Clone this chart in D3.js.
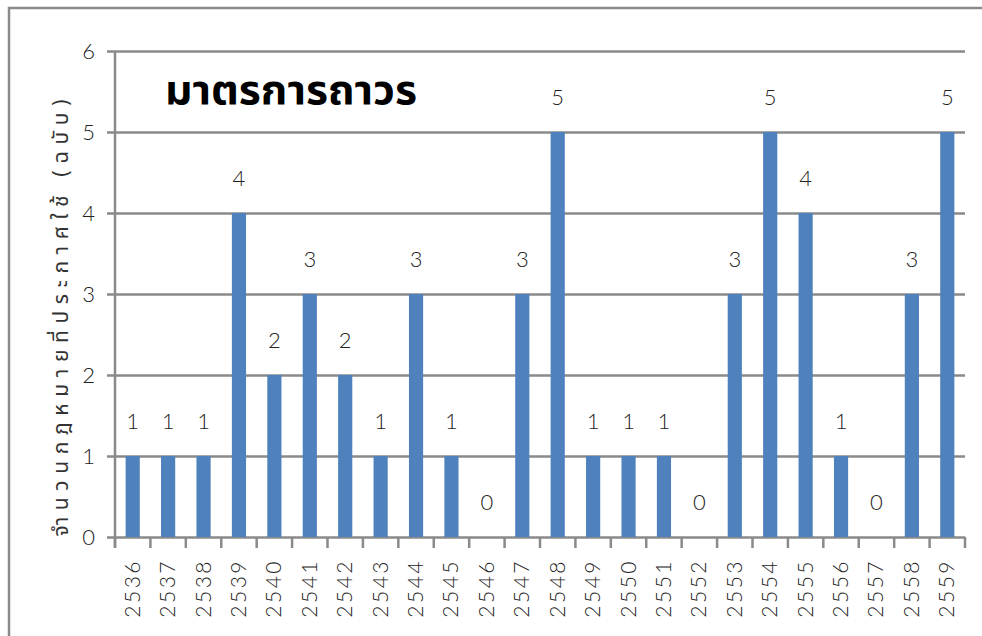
<!DOCTYPE html>
<html>
<head>
<meta charset="utf-8">
<script src="https://cdn.jsdelivr.net/npm/d3@7"></script>
<style>
  body { margin: 0; background: #fff; }
  .tick text { font-family: Lato, "Liberation Sans", sans-serif; font-weight: 300; fill: #222; }
</style>
</head>
<body>
<div id="vis"></div>
<script>
// years (พ.ศ.) and number of laws announced each year
var years = ["2536", "2537", "2538", "2539", "2540", "2541", "2542", "2543", "2544", "2545", "2546", "2547",
    "2548", "2549", "2550", "2551", "2552", "2553", "2554", "2555", "2556", "2557", "2558", "2559"];
var counts = [1, 1, 1, 4, 2, 3, 2, 1, 3, 1, 0, 3, 5, 1, 1, 1, 0, 3, 5, 4, 1, 0, 3, 5];
var yTicks = [0, 1, 2, 3, 4, 5, 6];
var title = "มาตรการถาวร";
var yTitle = "จำนวนกฎหมายที่ประกาศใช้ (ฉบับ)";

var W = 982, H = 636;
var margin = { top: 51, right: 17, bottom: 99, left: 115 },
    width = W - margin.left - margin.right,
    height = H - margin.top - margin.bottom;

var root = d3.select("#vis")
    .append("svg")
    .attr("width", W)
    .attr("height", H);

// chart frame (only top and left edges show in the picture)
root.append("path")
    .attr("d", "M9," + H + " L9,8 L" + W + ",8")
    .attr("fill", "none")
    .attr("stroke", "#8a8a8a")
    .attr("stroke-width", 2.5);

var svg = root.append("g")
    .attr("transform", "translate(" + margin.left + "," + margin.top + ")");

var x = d3.scaleBand().domain(years).range([0, width]).paddingInner(0.6).paddingOuter(0.3);
var xTick = d3.scaleBand().domain(years).range([0, width]);
var y = d3.scaleLinear().domain([0, 6]).range([height, 0]);

// gridlines + y axis
var yAxis = svg.append("g")
    .call(d3.axisLeft(y).tickValues(yTicks).tickFormat(d3.format("d"))
        .tickSize(-width).tickSizeOuter(0).tickPadding(20));
yAxis.select(".domain").remove();
yAxis.selectAll(".tick line")
    .attr("x1", -8)
    .attr("stroke", "#8a8a8a")
    .attr("stroke-width", 2.5);
yAxis.selectAll(".tick text")
    .attr("font-size", 22);

// left axis line
svg.append("line")
    .attr("x1", 0).attr("x2", 0)
    .attr("y1", 0).attr("y2", height + 11)
    .attr("stroke", "#8a8a8a")
    .attr("stroke-width", 2.5);

// x axis ticks at category boundaries
var bounds = years.map(d => xTick(d)).concat([width]);
svg.append("g").selectAll("line.xt")
    .data(bounds)
    .enter().append("line")
    .attr("x1", d => d).attr("x2", d => d)
    .attr("y1", height).attr("y2", height + 11)
    .attr("stroke", "#8a8a8a")
    .attr("stroke-width", 2.5);

svg.append("g").selectAll("text.xl")
    .data(years)
    .enter().append("text")
    .attr("transform", d => "translate(" + (xTick(d) + xTick.bandwidth() / 2 + 7) + "," + (height + 22) + ") rotate(-90)")
    .attr("text-anchor", "end")
    .attr("font-family", "Lato, 'Liberation Sans', sans-serif")
    .attr("font-weight", 300)
    .attr("font-size", 21)
    .attr("letter-spacing", 2.5)
    .attr("fill", "#222")
    .text(d => d);

// bars
var data = years.map((d, i) => ({ year: d, value: counts[i] }));
svg.selectAll("rect.bar")
    .data(data)
    .enter().append("rect")
    .attr("class", "bar")
    .attr("x", d => x(d.year))
    .attr("width", x.bandwidth())
    .attr("y", d => y(d.value))
    .attr("height", d => height - y(d.value))
    .attr("fill", "#4f81bd");

// value labels
svg.selectAll("text.val")
    .data(data)
    .enter().append("text")
    .attr("x", d => x(d.year) + x.bandwidth() / 2)
    .attr("y", d => y(d.value) - 27)
    .attr("text-anchor", "middle")
    .attr("font-family", "Lato, 'Liberation Sans', sans-serif")
    .attr("font-weight", 300)
    .attr("font-size", 22)
    .attr("fill", "#222")
    .text(d => d.value);

// title inside plot
svg.append("text")
    .attr("x", 50)
    .attr("y", 53)
    .attr("font-family", "'Noto Sans', 'Noto Sans Thai', sans-serif")
    .attr("font-weight", "bold")
    .attr("font-size", 41)
    .attr("textLength", 252)
    .attr("lengthAdjust", "spacingAndGlyphs")
    .attr("fill", "#000")
    .text(title);

// y axis title
root.append("text")
    .attr("transform", "translate(68," + 318 + ") rotate(-90)")
    .attr("text-anchor", "middle")
    .attr("font-family", "'Noto Sans', 'Noto Sans Thai', sans-serif")
    .attr("font-size", 21)
    .attr("textLength", 437)
    .attr("lengthAdjust", "spacing")
    .attr("fill", "#333")
    .text(yTitle);
</script>
</body>
</html>
